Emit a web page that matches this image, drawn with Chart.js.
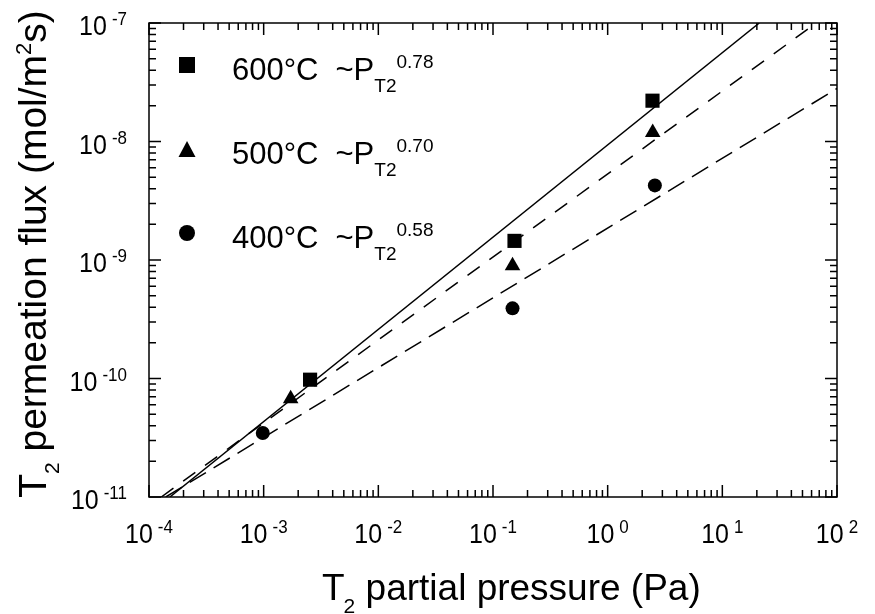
<!DOCTYPE html>
<html>
<head>
<meta charset="utf-8">
<script src="https://cdn.jsdelivr.net/npm/chart.js@4.4.0/dist/chart.umd.min.js"></script>
<style>
  body { margin:0; background:#fff; }
  #wrap { position:relative; width:875px; height:614px; font-family:"Liberation Sans", Arial, sans-serif; color:#000; }
  #wrap canvas { position:absolute; left:0; top:0; }
  .txt { position:absolute; white-space:nowrap; line-height:1; }
  .up, .dn { position:relative; }
</style>
</head>
<body>
<div id="wrap">
  <canvas id="chart" width="875" height="614"></canvas>
</div>
<script>
/* ── data ── */
const xTickExps = [-4, -3, -2, -1, 0, 1, 2];
const yTickExps = [-11, -10, -9, -8, -7];

const pressure600 = [2.54e-3, 0.154, 2.46];
const flux600     = [9.77e-11, 1.45e-9, 2.21e-8];
const pressure500 = [1.72e-3, 0.148, 2.47];
const flux500     = [6.76e-11, 8.95e-10, 1.19e-8];
const pressure400 = [9.82e-4, 0.148, 2.58];
const flux400     = [3.47e-11, 3.91e-10, 4.26e-9];

// fitted power-law lines, end points where they meet the frame
const fit600X = [1.52e-4, 21];   const fit600Y = [1e-11, 1e-7];
const fit500X = [1.28e-4, 66];   const fit500Y = [1e-11, 1e-7];
const fit400X = [1.40e-4, 100];  const fit400Y = [1e-11, 2.8e-8];

const legendTemps = ['600°C', '500°C', '400°C'];
const legendExps  = ['0.78', '0.70', '0.58'];

const pts = (xs, ys) => xs.map((x, i) => ({ x, y: ys[i] }));

function pointSet(data, style, r) {
  return { type:'scatter', data, pointStyle:style, pointRadius:r, pointHoverRadius:r,
           backgroundColor:'#000', borderColor:'#000', borderWidth:0, showLine:false, order:0 };
}
function lineSet(data, dash) {
  return { type:'line', data, borderColor:'#000', borderWidth:1.5, borderDash:dash,
           pointRadius:0, fill:false, tension:0, order:1 };
}

/* frame, inward ticks on all sides, legend symbols */
const frameTicks = {
  id: 'frameTicks',
  afterDraw(chart) {
    const { ctx, chartArea: a, scales: { x, y } } = chart;
    ctx.save();
    ctx.strokeStyle = '#000';
    ctx.lineWidth = 1.5;
    ctx.strokeRect(a.left, a.top, a.right - a.left, a.bottom - a.top);
    ctx.beginPath();
    xTickExps.forEach(e => {
      for (let m = 1; m < 10; m++) {
        if (e === xTickExps[xTickExps.length - 1] && m > 1) break;
        const px = x.getPixelForValue(m * Math.pow(10, e));
        const len = m === 1 ? 12 : 7;
        ctx.moveTo(px, a.bottom); ctx.lineTo(px, a.bottom - len);
        ctx.moveTo(px, a.top);    ctx.lineTo(px, a.top + len);
      }
    });
    yTickExps.forEach(e => {
      for (let m = 1; m < 10; m++) {
        if (e === yTickExps[yTickExps.length - 1] && m > 1) break;
        const py = y.getPixelForValue(m * Math.pow(10, e));
        const len = m === 1 ? 12 : 7;
        ctx.moveTo(a.left, py);  ctx.lineTo(a.left + len, py);
        ctx.moveTo(a.right, py); ctx.lineTo(a.right - len, py);
      }
    });
    ctx.stroke();

    // legend symbols
    ctx.fillStyle = '#000';
    const lx = a.left + 38;
    ctx.fillRect(lx - 8, a.top + 34, 16, 16);
    ctx.beginPath();
    ctx.moveTo(lx, a.top + 118); ctx.lineTo(lx + 8.5, a.top + 134); ctx.lineTo(lx - 8.5, a.top + 134);
    ctx.closePath(); ctx.fill();
    ctx.beginPath();
    ctx.arc(lx, a.top + 210, 8, 0, Math.PI * 2);
    ctx.fill();
    ctx.restore();
  }
};

const chart = new Chart(document.getElementById('chart'), {
  data: {
    datasets: [
      pointSet(pts(pressure600, flux600), 'rect', 10),
      pointSet(pts(pressure500, flux500), 'triangle', 9),
      pointSet(pts(pressure400, flux400), 'circle', 7),
      lineSet(pts(fit600X, fit600Y), []),
      lineSet(pts(fit500X, fit500Y), [15, 12]),
      lineSet(pts(fit400X, fit400Y), [19, 9]),
    ]
  },
  options: {
    responsive: false,
    animation: false,
    layout: { padding: { left:149, right:38, top:23, bottom:117 } },
    scales: {
      x: { type:'logarithmic', min:1e-4, max:1e2, display:false },
      y: { type:'logarithmic', min:1e-11, max:1e-7, display:false },
    },
    plugins: { legend:{ display:false }, tooltip:{ enabled:false } },
  },
  plugins: [frameTicks],
});

/* ── text as HTML, placed from the chart's scales ── */
const wrap = document.getElementById('wrap');
const asc = 0.8465;  // baseline offset for line-height:1
function addText(html, css) {
  const d = document.createElement('div');
  d.className = 'txt';
  d.innerHTML = html;
  Object.assign(d.style, css);
  wrap.appendChild(d);
  return d;
}
const tickHtml = e =>
  `10<span class="up" style="font-size:17px;top:-9px;margin-left:5px">${e}</span>`;

const sx = chart.scales.x, sy = chart.scales.y, area = chart.chartArea;
xTickExps.forEach(e => {
  const px = sx.getPixelForValue(Math.pow(10, e));
  addText(tickHtml(e), { fontSize:'25px', left:px + 'px', top:(543 - asc * 25) + 'px',
                         transform:'translateX(-50%) scaleY(1.12)', transformOrigin:'50% 85%' });
});
yTickExps.forEach(e => {
  const py = sy.getPixelForValue(Math.pow(10, e));
  addText(tickHtml(e), { fontSize:'25px', right:(875 - (area.left - 22)) + 'px',
                         top:(py + 12.5 - asc * 25) + 'px',
                         transform:'scaleY(1.12)', transformOrigin:'50% 85%' });
});

// axis titles
addText('T<span class="dn" style="font-size:21px;top:13px;margin-left:-1px">2</span> partial pressure (Pa)',
        { fontSize:'37px', left:'322px', top:(600 - asc * 37) + 'px' });
addText('T<span class="dn" style="font-size:21px;top:13px">2</span> permeation flux (mol/m<span class="up" style="font-size:22px;top:-15px">2</span>s)',
        { fontSize:'39px', left:'31.5px', top:'253.5px', transform:'translate(-50%,-50%) rotate(-90deg)' });

// legend text
const rowBase = [80, 164.5, 248];
legendTemps.forEach((t, i) => {
  addText(`${t}<span style="margin-left:17px">~P</span><span class="dn" style="font-size:19px;top:12px">T2</span><span class="up" style="font-size:19px;top:-12px">${legendExps[i]}</span>`,
          { fontSize:'31px', left:'232px', top:(rowBase[i] - asc * 31) + 'px' });
});
</script>
</body>
</html>
